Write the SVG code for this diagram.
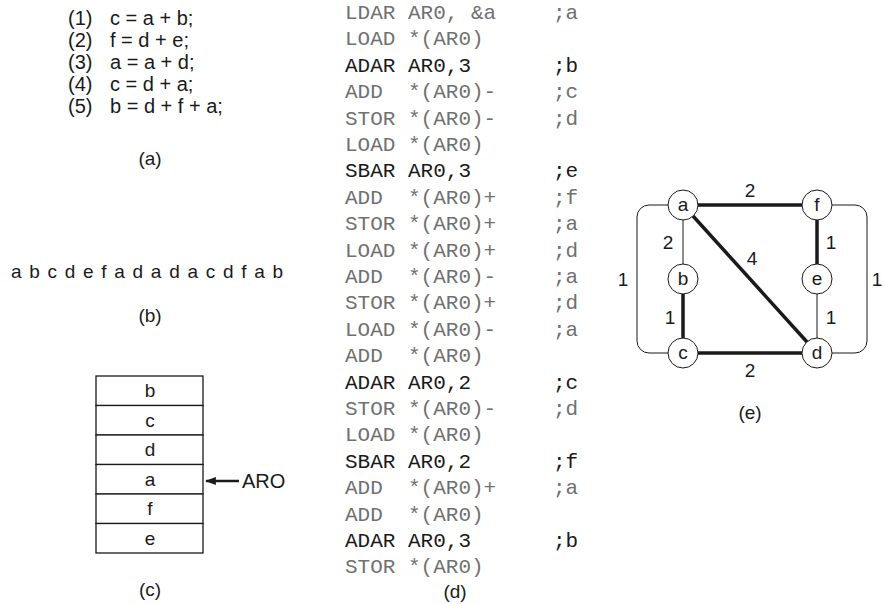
<svg xmlns="http://www.w3.org/2000/svg" width="884" height="604" viewBox="0 0 884 604">
<style>
.t{font-family:"Liberation Sans",Arial,sans-serif;font-size:19px;fill:#1a1a1a}
.ta{font-family:"Liberation Sans",Arial,sans-serif;font-size:20px;fill:#1a1a1a}
.m{font-family:"Liberation Mono","DejaVu Sans Mono",monospace;font-size:21px;fill:#707070}
.mb{font-family:"Liberation Mono","DejaVu Sans Mono",monospace;font-size:21px;fill:#1a1a1a}
.c{text-anchor:middle}
.thin{stroke:#1a1a1a;stroke-width:1;fill:none}
.thick{stroke:#1a1a1a;stroke-width:3.5;fill:none}
.node{fill:#fff;stroke:#1a1a1a;stroke-width:1}
.cell{fill:#fff;stroke:#1a1a1a;stroke-width:1.3}
</style>
<defs>
<marker id="ah" viewBox="0 0 12 10" refX="11" refY="5" markerWidth="12" markerHeight="9" markerUnits="userSpaceOnUse" orient="auto"><path d="M0,0.5 L12,5 L0,9.5 z" fill="#1a1a1a"/></marker>
</defs>

<!-- (a) -->
<g id="panel-a">
<text class="ta" x="68" y="25">(1)</text><text class="ta" x="110" y="25">c = a + b;</text>
<text class="ta" x="68" y="47">(2)</text><text class="ta" x="110" y="47">f = d + e;</text>
<text class="ta" x="68" y="69">(3)</text><text class="ta" x="110" y="69">a = a + d;</text>
<text class="ta" x="68" y="91">(4)</text><text class="ta" x="110" y="91">c = d + a;</text>
<text class="ta" x="68" y="113">(5)</text><text class="ta" x="110" y="113">b = d + f + a;</text>
<text class="t c" x="150" y="165">(a)</text>
</g>

<!-- (b) -->
<g id="panel-b">
<text class="t" x="11" y="278" textLength="272">a b c d e f a d a d a c d f a b</text>
<text class="t c" x="150" y="322">(b)</text>
</g>

<!-- (c) -->
<g id="panel-c">
<rect class="cell" x="96" y="376" width="107" height="29.5"/>
<rect class="cell" x="96" y="405.5" width="107" height="29.5"/>
<rect class="cell" x="96" y="435" width="107" height="29.5"/>
<rect class="cell" x="96" y="464.5" width="107" height="29.5"/>
<rect class="cell" x="96" y="494" width="107" height="29.5"/>
<rect class="cell" x="96" y="523.5" width="107" height="29.5"/>
<text class="t c" x="150" y="397">b</text>
<text class="t c" x="150" y="427">c</text>
<text class="t c" x="150" y="456">d</text>
<text class="t c" x="150" y="486">a</text>
<text class="t c" x="150" y="515">f</text>
<text class="t c" x="150" y="545">e</text>
<line x1="239" y1="481" x2="206" y2="481" stroke="#1a1a1a" stroke-width="2.5" marker-end="url(#ah)"/>
<text class="ta" x="242" y="488">ARO</text>
<text class="t c" x="150" y="596">(c)</text>
</g>

<!-- (d) -->
<g id="panel-d">
<text class="m" x="345" y="19">LDAR</text><text class="m" x="408" y="19">AR0, &amp;a</text><text class="m" x="553" y="19">;a</text>
<text class="m" x="345" y="45.4">LOAD</text><text class="m" x="408" y="45.4">*(AR0)</text>
<text class="mb" x="345" y="71.8">ADAR</text><text class="mb" x="408" y="71.8">AR0,3</text><text class="mb" x="553" y="71.8">;b</text>
<text class="m" x="345" y="98.2">ADD</text><text class="m" x="408" y="98.2">*(AR0)-</text><text class="m" x="553" y="98.2">;c</text>
<text class="m" x="345" y="124.6">STOR</text><text class="m" x="408" y="124.6">*(AR0)-</text><text class="m" x="553" y="124.6">;d</text>
<text class="m" x="345" y="151">LOAD</text><text class="m" x="408" y="151">*(AR0)</text>
<text class="mb" x="345" y="177.4">SBAR</text><text class="mb" x="408" y="177.4">AR0,3</text><text class="mb" x="553" y="177.4">;e</text>
<text class="m" x="345" y="203.8">ADD</text><text class="m" x="408" y="203.8">*(AR0)+</text><text class="m" x="553" y="203.8">;f</text>
<text class="m" x="345" y="230.2">STOR</text><text class="m" x="408" y="230.2">*(AR0)+</text><text class="m" x="553" y="230.2">;a</text>
<text class="m" x="345" y="256.6">LOAD</text><text class="m" x="408" y="256.6">*(AR0)+</text><text class="m" x="553" y="256.6">;d</text>
<text class="m" x="345" y="283">ADD</text><text class="m" x="408" y="283">*(AR0)-</text><text class="m" x="553" y="283">;a</text>
<text class="m" x="345" y="309.4">STOR</text><text class="m" x="408" y="309.4">*(AR0)+</text><text class="m" x="553" y="309.4">;d</text>
<text class="m" x="345" y="335.8">LOAD</text><text class="m" x="408" y="335.8">*(AR0)-</text><text class="m" x="553" y="335.8">;a</text>
<text class="m" x="345" y="362.2">ADD</text><text class="m" x="408" y="362.2">*(AR0)</text>
<text class="mb" x="345" y="388.6">ADAR</text><text class="mb" x="408" y="388.6">AR0,2</text><text class="mb" x="553" y="388.6">;c</text>
<text class="m" x="345" y="415">STOR</text><text class="m" x="408" y="415">*(AR0)-</text><text class="m" x="553" y="415">;d</text>
<text class="m" x="345" y="441.4">LOAD</text><text class="m" x="408" y="441.4">*(AR0)</text>
<text class="mb" x="345" y="467.8">SBAR</text><text class="mb" x="408" y="467.8">AR0,2</text><text class="mb" x="553" y="467.8">;f</text>
<text class="m" x="345" y="494.2">ADD</text><text class="m" x="408" y="494.2">*(AR0)+</text><text class="m" x="553" y="494.2">;a</text>
<text class="m" x="345" y="520.6">ADD</text><text class="m" x="408" y="520.6">*(AR0)</text>
<text class="mb" x="345" y="547">ADAR</text><text class="mb" x="408" y="547">AR0,3</text><text class="mb" x="553" y="547">;b</text>
<text class="m" x="345" y="573.4">STOR</text><text class="m" x="408" y="573.4">*(AR0)</text>
<text class="t c" x="455" y="598">(d)</text>
</g>

<!-- (e) connectors -->
<g id="connectors">
<path class="thin" d="M668,205 H649 A12,12 0 0 0 637,217 V341 A12,12 0 0 0 649,353 H668"/>
<path class="thin" d="M832,205 H855 A12,12 0 0 1 867,217 V341 A12,12 0 0 1 855,353 H832"/>
<line class="thin" x1="683" y1="220" x2="683" y2="264"/>
<line class="thin" x1="817" y1="294" x2="817" y2="338"/>
<line class="thick" x1="698" y1="205" x2="802" y2="205"/>
<line class="thick" x1="817" y1="220" x2="817" y2="264"/>
<line class="thick" x1="683" y1="294" x2="683" y2="338"/>
<line class="thick" x1="698" y1="353" x2="802" y2="353"/>
<line class="thick" x1="693" y1="216" x2="807" y2="342"/>
</g>
<g id="edge-labels">
<text class="t c" x="750" y="197">2</text>
<text class="t c" x="668" y="249">2</text>
<text class="t c" x="623" y="286">1</text>
<text class="t c" x="752" y="265">4</text>
<text class="t c" x="670" y="324">1</text>
<text class="t c" x="831" y="249">1</text>
<text class="t c" x="831" y="324">1</text>
<text class="t c" x="877" y="286">1</text>
<text class="t c" x="750" y="377">2</text>
</g>
<g id="node-a"><circle class="node" cx="683" cy="205" r="15"/><text class="t c" x="683" y="211">a</text></g>
<g id="node-f"><circle class="node" cx="817" cy="205" r="15"/><text class="t c" x="817" y="211">f</text></g>
<g id="node-b"><circle class="node" cx="683" cy="279" r="15"/><text class="t c" x="683" y="285">b</text></g>
<g id="node-e"><circle class="node" cx="817" cy="279" r="15"/><text class="t c" x="817" y="285">e</text></g>
<g id="node-c"><circle class="node" cx="683" cy="353" r="15"/><text class="t c" x="683" y="359">c</text></g>
<g id="node-d"><circle class="node" cx="817" cy="353" r="15"/><text class="t c" x="817" y="359">d</text></g>
<text class="t c" x="750" y="419">(e)</text>
</svg>
